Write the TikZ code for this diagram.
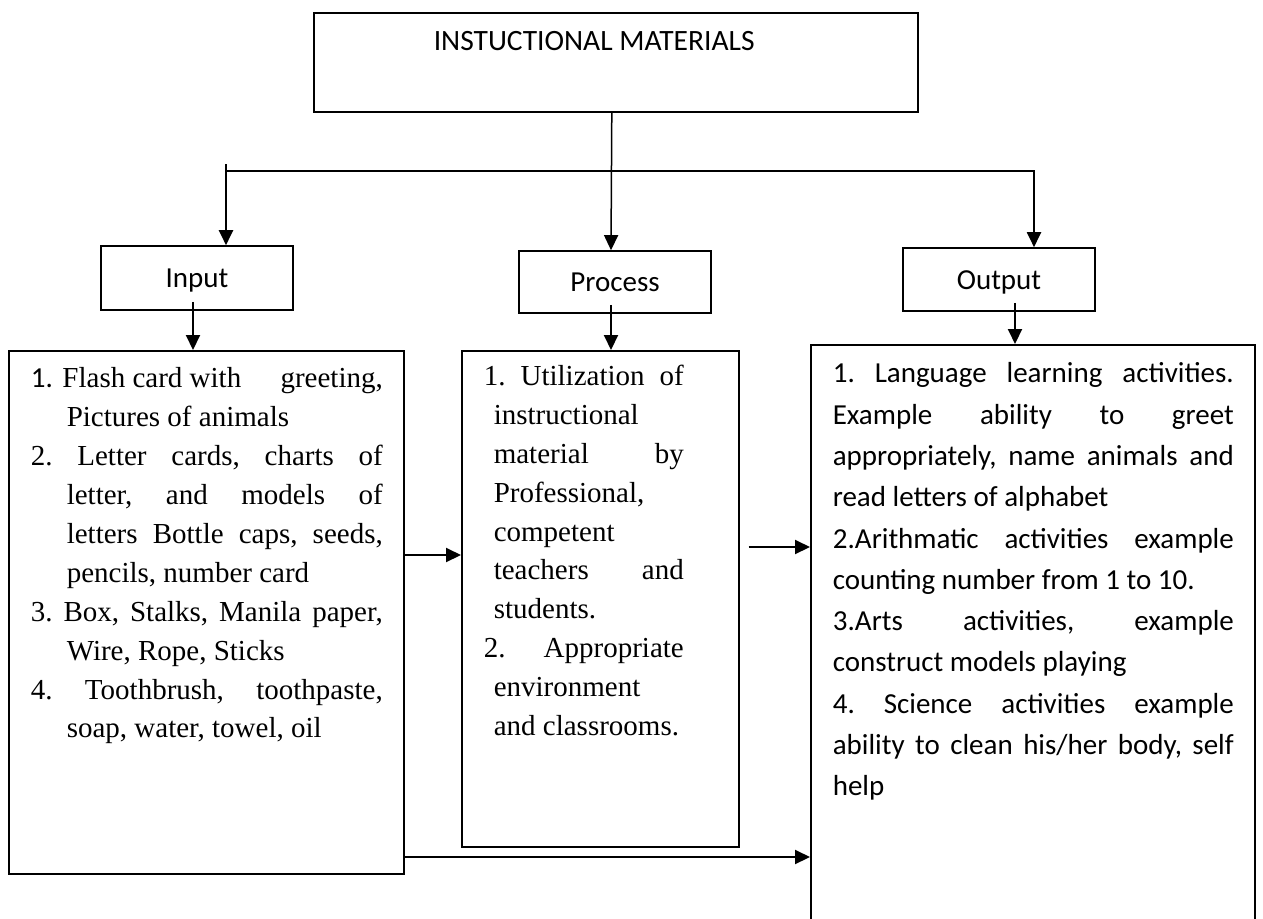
\documentclass[tikz,border=0pt]{standalone}
\usepackage{fontspec}
\setmainfont{Liberation Serif}
\newfontfamily\calfont{Carlito}
\usetikzlibrary{arrows.meta}
\begin{document}
\begin{tikzpicture}[x=1pt,y=-1pt,
  box/.style={draw, line width=1.6pt, inner sep=0pt},
  small/.style={box, minimum width=192pt, text height=19pt, text depth=0pt, font=\calfont\fontsize{29}{35}\selectfont},
  conn/.style={line width=2pt},
  arr/.style={conn, -{Triangle[length=15pt,width=14pt]}}]
\useasboundingbox (0,0) rectangle (1263,918);
\fill[white] (0,0) rectangle (1263,918);
\clip (0,0) rectangle (1263,918);

% title
\node[box, anchor=north west] (title) at (313,12) {\begin{minipage}[t][99pt][t]{604pt}\calfont\fontsize{29.5}{35}\selectfont\rule{0pt}{38pt}\hspace*{120pt}INSTUCTIONAL MATERIALS\end{minipage}};

% small boxes
\node[small, minimum height=64pt] (input) at (197,278) {Input};
\node[small, minimum height=62pt] (process) at (615,282) {Process};
\node[small, minimum height=63pt] (output) at (999,279.5) {Output};

% input list
\node[box, anchor=north west] (inbox) at (8,350) {\begin{minipage}[t][523pt][t]{395pt}\fontsize{29}{38.9}\selectfont\leftskip=22pt\rightskip=21pt
\rule{0pt}{37pt}{\calfont 1.} Flash card with\hfill greeting,\\
\hspace*{36pt}Pictures of animals\\
2.\hfill Letter\hfill cards,\hfill charts\hfill of\\
\hspace*{36pt}letter,\hfill and\hfill models\hfill of\\
\hspace*{36pt}letters\hfill Bottle\hfill caps,\hfill seeds,\\
\hspace*{36pt}pencils, number card\\
3.\hfill Box,\hfill Stalks,\hfill Manila\hfill paper,\\
\hspace*{36pt}Wire, Rope, Sticks\\
4.\hfill Toothbrush,\hfill toothpaste,\\
\hspace*{36pt}soap, water, towel, oil\par
\end{minipage}};

% process list
\node[box, anchor=north west] (midbox) at (461,350) {\begin{minipage}[t][496pt][t]{277pt}\fontsize{29}{38.8}\selectfont\leftskip=22pt\rightskip=55pt
\rule{0pt}{35pt}1.\hfill Utilization\hfill of\\
\hspace*{10pt}instructional\\
\hspace*{10pt}material\hfill by\\
\hspace*{10pt}Professional,\\
\hspace*{10pt}competent\\
\hspace*{10pt}teachers\hfill and\\
\hspace*{10pt}students.\\
2.\hfill Appropriate\\
\hspace*{10pt}environment\\
\hspace*{10pt}and classrooms.\par
\end{minipage}};

% output list
\node[box, anchor=north west] (outbox) at (810,344) {\begin{minipage}[t][600pt][t]{444pt}\calfont\fontsize{29}{41.3}\selectfont\leftskip=22pt\rightskip=21pt
\rule{0pt}{38pt}1.\hfill Language\hfill learning\hfill activities.\\
Example\hfill ability\hfill to\hfill greet\\
appropriately,\hfill name\hfill animals\hfill and\\
read letters of alphabet\\
2.Arithmatic\hfill activities\hfill example\\
counting number from 1 to 10.\\
3.Arts\hfill activities,\hfill example\\
construct models playing\\
4.\hfill Science\hfill activities\hfill example\\
ability\hfill to\hfill clean\hfill his/her\hfill body,\hfill self\\
help\par
\end{minipage}};

% connectors
\coordinate (tick) at (226,164);
\coordinate (busL) at (226,171);
\coordinate (busR) at (1034,171);
\coordinate (ya) at (0,555);
\coordinate (yb) at (0,547);
\coordinate (yc) at (0,857);
\coordinate (ia) at ([xshift=-4pt,yshift=9pt]input.south);
\coordinate (pa) at ([xshift=-4pt,yshift=9pt]process.south);
\coordinate (oa) at ([xshift=16pt,yshift=9pt]output.south);

\draw[arr, line width=1.5pt] ([xshift=-4pt]title.south) -- ([xshift=-4pt]process.north);
\draw[arr] (busL) -- (busR) -- (busR |- output.north);
\draw[arr] (tick) -- (tick |- input.north);
\draw[arr] (ia) -- (ia |- inbox.north);
\draw[arr] (pa) -- (pa |- midbox.north);
\draw[arr] (oa) -- (oa |- outbox.north);
\draw[arr] (inbox.east |- ya) -- (midbox.west |- ya);
\draw[arr, shorten <=9pt] (midbox.east |- yb) -- (outbox.west |- yb);
\draw[arr] (inbox.east |- yc) -- (outbox.west |- yc);
\end{tikzpicture}
\end{document}
